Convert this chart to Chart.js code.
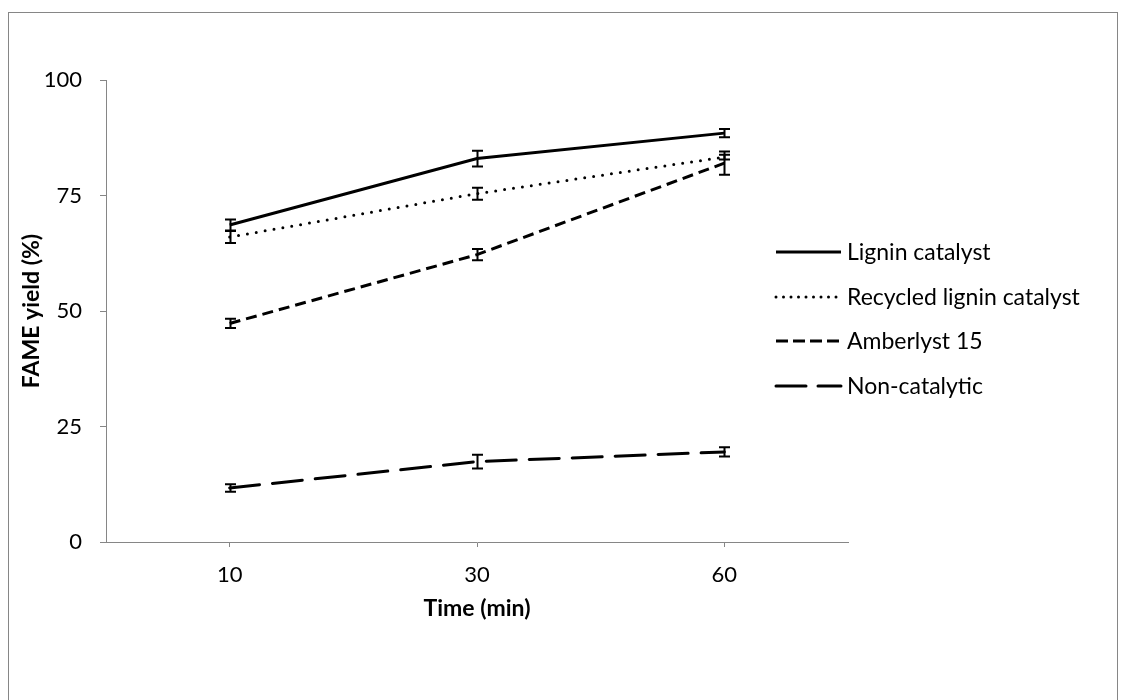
<!DOCTYPE html>
<html lang="en">
<head>
<meta charset="UTF-8">
<title>FAME yield vs time</title>
<script src="https://cdn.jsdelivr.net/npm/chart.js"></script>
<style>
  html, body { margin: 0; padding: 0; background: #fff; }
  #wrap { width: 1126px; height: 700px; }
</style>
</head>
<body>
<div id="wrap"><canvas id="myChart" width="1126" height="700"></canvas></div>
<script>
  // data
  const times = ['10', '30', '60'];
  const lignin = [68.6, 83.0, 88.5];
  const ligninErr = [1.2, 1.7, 0.9];
  const recycled = [66.0, 75.4, 83.3];
  const recycledErr = [1.3, 1.3, 0.5];
  const amberlyst = [47.3, 62.2, 82.0];
  const amberlystErr = [1.0, 1.2, 2.5];
  const noncat = [11.7, 17.4, 19.5];
  const noncatErr = [0.8, 1.5, 1.0];
  const yTicks = [0, 25, 50, 75, 100];

  const axisGrey = '#868686';
  const font = 'Lato, "Open Sans", sans-serif';

  const datasets = [
    { label: 'Lignin catalyst', data: lignin, err: ligninErr, borderDash: [], borderCapStyle: 'butt' },
    { label: 'Recycled lignin catalyst', data: recycled, err: recycledErr, borderDash: [0, 9], borderCapStyle: 'round', legendDash: [0, 7.5] },
    { label: 'Amberlyst 15', data: amberlyst, err: amberlystErr, borderDash: [11, 6], borderCapStyle: 'butt', legendDash: [12, 5] },
    { label: 'Non-catalytic', data: noncat, err: noncatErr, borderDash: [30, 13], borderCapStyle: 'round', legendDash: [30, 12] }
  ].map(d => Object.assign({
    borderColor: '#000',
    borderWidth: 3,
    pointRadius: 0,
    tension: 0,
    fill: false
  }, d));

  // outer frame of the chart
  const framePlugin = {
    id: 'frame',
    beforeDraw(chart) {
      const ctx = chart.ctx;
      ctx.save();
      ctx.fillStyle = '#fff';
      ctx.fillRect(0, 0, chart.width, chart.height);
      ctx.strokeStyle = axisGrey;
      ctx.lineWidth = 1;
      ctx.strokeRect(8.5, 12.5, 1109, 720);
      ctx.restore();
    }
  };

  // vertical error bars with caps
  const errorBarPlugin = {
    id: 'errorBars',
    afterDatasetsDraw(chart) {
      const ctx = chart.ctx;
      const y = chart.scales.y;
      ctx.save();
      ctx.strokeStyle = '#000';
      ctx.lineWidth = 2;
      ctx.setLineDash([]);
      chart.data.datasets.forEach((ds, i) => {
        const meta = chart.getDatasetMeta(i);
        meta.data.forEach((pt, j) => {
          const top = y.getPixelForValue(ds.data[j] + ds.err[j]);
          const bot = y.getPixelForValue(ds.data[j] - ds.err[j]);
          const x = Math.round(pt.x) + 0.5;
          ctx.beginPath();
          ctx.moveTo(x, top); ctx.lineTo(x, bot);
          ctx.moveTo(x - 5.5, top); ctx.lineTo(x + 5.5, top);
          ctx.moveTo(x - 5.5, bot); ctx.lineTo(x + 5.5, bot);
          ctx.stroke();
        });
      });
      ctx.restore();
    }
  };

  // legend to the right of the plot
  const legendPlugin = {
    id: 'sideLegend',
    afterDraw(chart) {
      const ctx = chart.ctx;
      const x0 = 776, x1 = 841, tx = 847;
      const rows = [252, 297, 341, 386];
      ctx.save();
      ctx.font = '23px ' + font;
      ctx.textBaseline = 'middle';
      ctx.fillStyle = '#000';
      chart.data.datasets.forEach((ds, i) => {
        ctx.strokeStyle = '#000';
        ctx.lineWidth = 3;
        ctx.lineCap = ds.borderCapStyle;
        ctx.setLineDash(ds.legendDash || ds.borderDash);
        ctx.beginPath();
        ctx.moveTo(x0, rows[i]);
        ctx.lineTo(x1, rows[i]);
        ctx.stroke();
        ctx.fillText(ds.label, tx, rows[i] + 1);
      });
      ctx.restore();
    }
  };

  new Chart(document.getElementById('myChart'), {
    type: 'line',
    data: { labels: times, datasets },
    plugins: [framePlugin, errorBarPlugin, legendPlugin],
    options: {
      responsive: false,
      animation: false,
      devicePixelRatio: 1,
      layout: { padding: { top: 80, right: 278, bottom: 58, left: 0 } },
      plugins: { legend: { display: false }, tooltip: { enabled: false } },
      scales: {
        x: {
          offset: true,
          grid: { offset: false, drawOnChartArea: false, color: axisGrey, tickLength: 5 },
          border: { color: axisGrey, width: 1 },
          ticks: { color: '#000', font: { family: font, size: 22 }, padding: 15 },
          title: { display: true, text: 'Time (min)', color: '#000', font: { family: font, size: 23, weight: 'bold' }, padding: { top: 0, bottom: 20 } },
          afterFit(scale) { scale.height = 100; }
        },
        y: {
          min: 0,
          max: 100,
          afterBuildTicks(scale) { scale.ticks = yTicks.map(v => ({ value: v })); },
          grid: { drawOnChartArea: false, color: axisGrey, tickLength: 6 },
          border: { color: axisGrey, width: 1 },
          ticks: { color: '#000', font: { family: font, size: 22 }, padding: 18 },
          title: { display: true, text: 'FAME yield (%)', color: '#000', font: { family: font, size: 23, weight: 'bold' }, padding: { top: 18, bottom: 0 } },
          afterFit(scale) { scale.width = 106; }
        }
      }
    }
  });
</script>
</body>
</html>
